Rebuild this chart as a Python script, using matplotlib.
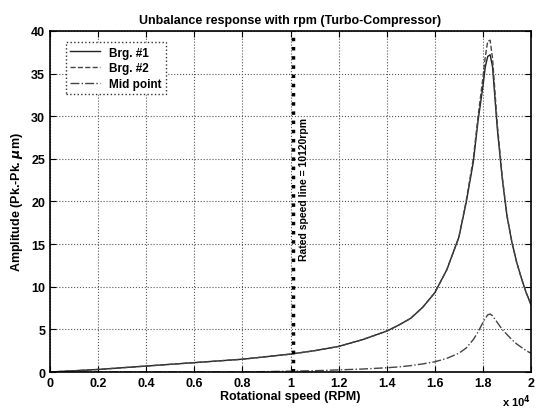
import matplotlib
matplotlib.use("Agg")
import matplotlib.pyplot as plt

plt.rcParams['font.family'] = ['Liberation Sans', 'DejaVu Sans']
plt.rcParams['font.weight'] = 'bold'

# rotational speed (rpm) and amplitudes (Pk.-Pk. um)
rpm = [0, 1000, 2000, 3000, 4000, 5000, 6000, 7000, 8000, 9000, 10000, 11000,
       12000, 13000, 14000, 14500, 15000, 15500, 16000, 16500, 17000, 17300,
       17600, 17800, 18000, 18100, 18200, 18300, 18400, 18600, 18800, 19000,
       19200, 19400, 19600, 19800, 20000]
brg1 = [0, 0.15, 0.3, 0.5, 0.7, 0.9, 1.1, 1.3, 1.5, 1.8, 2.1, 2.5,
        3.0, 3.8, 4.8, 5.5, 6.3, 7.6, 9.3, 12.0, 15.8, 19.8,
        24.6, 29.5, 33.5, 35.8, 37.0, 37.2, 35.8, 28.5, 22.8, 18.3,
        15.3, 12.9, 11.0, 9.3, 7.9]
brg2 = [0, 0.15, 0.3, 0.5, 0.7, 0.9, 1.1, 1.3, 1.5, 1.8, 2.1, 2.5,
        3.0, 3.8, 4.8, 5.5, 6.3, 7.6, 9.3, 12.0, 15.8, 20.0,
        25.0, 30.0, 34.5, 37.0, 38.8, 38.9, 36.8, 29.0, 23.0, 18.4,
        15.3, 12.9, 11.0, 9.3, 7.9]
mid = [0, 0, 0, 0, 0, 0, 0, 0, 0, 0.05, 0.1, 0.15,
       0.25, 0.35, 0.5, 0.6, 0.75, 0.95, 1.2, 1.6, 2.2, 2.8,
       3.8, 4.7, 5.8, 6.3, 6.7, 6.8, 6.6, 5.8, 5.0, 4.4,
       3.8, 3.3, 2.9, 2.5, 2.2]
rated_rpm = 10120

xticks = [0, 2000, 4000, 6000, 8000, 10000, 12000, 14000, 16000, 18000, 20000]
xlabels = ['0', '0.2', '0.4', '0.6', '0.8', '1', '1.2', '1.4', '1.6', '1.8', '2']
yticks = [0, 5, 10, 15, 20, 25, 30, 35, 40]

fig = plt.figure(figsize=(5.38, 4.14), dpi=100)
ax = fig.add_axes([0.093, 0.099, 0.894, 0.824])

ax.plot(rpm, brg1, color='#222222', lw=1.0, ls='-', label='Brg. #1')
ax.plot(rpm, brg2, color='#444444', lw=1.0, ls='--', label='Brg. #2')
ax.plot(rpm, mid, color='#444444', lw=1.0, ls='-.', label='Mid point')

ax.axvline(rated_rpm, color='black', lw=2.5, ls=':')
ax.text(rated_rpm + 450, 21.5, 'Rated speed line = 10120rpm', rotation=90,
        ha='center', va='center', fontsize=7.5, fontweight='bold')

ax.set_xlim(0, 20000)
ax.set_ylim(0, 40)
ax.set_xticks(xticks)
ax.set_xticklabels(xlabels)
ax.set_yticks(yticks)
ax.tick_params(direction='in', top=True, right=True, labelsize=9, length=4)
ax.grid(True, ls=':', color='#555555', lw=0.8)
for s in ax.spines.values():
    s.set_linewidth(1.2)

ax.set_title('Unbalance response with rpm (Turbo-Compressor)', fontsize=9,
             fontweight='bold')
ax.set_xlabel('Rotational speed (RPM)', fontsize=9, fontweight='bold', labelpad=1)
ax.set_ylabel('Amplitude (Pk.-Pk. $\\mu$m)', fontsize=9, fontweight='bold')
ax.text(1.0, -0.085, 'x 10$^4$', transform=ax.transAxes, ha='right', va='center',
        fontsize=8, fontweight='bold')

leg = ax.legend(loc='upper left', bbox_to_anchor=(0.02, 0.985), fontsize=8.5,
                fancybox=False, framealpha=1, edgecolor='#333333',
                handlelength=2.5, borderpad=0.4, labelspacing=0.3)
leg.get_frame().set_linestyle(':')

fig.savefig('out.png', dpi=100)
